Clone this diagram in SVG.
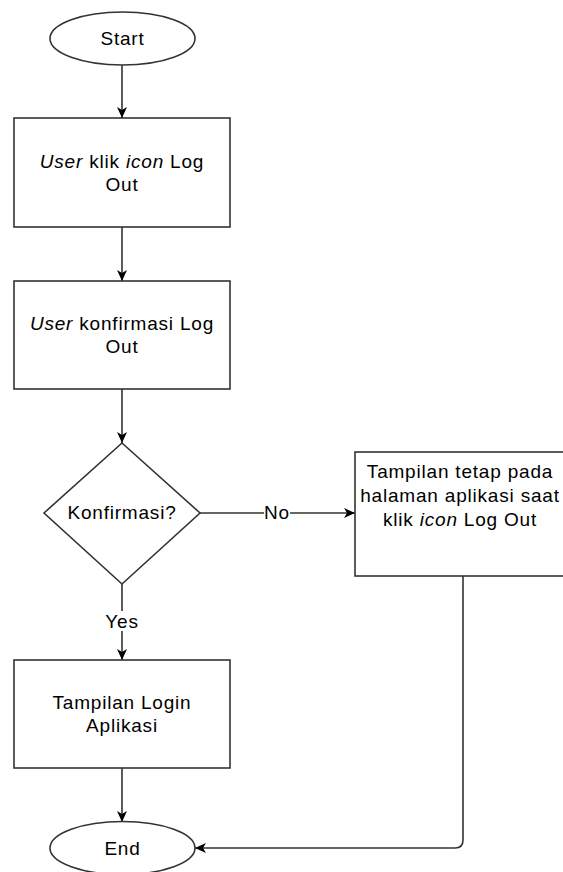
<svg xmlns="http://www.w3.org/2000/svg" width="563" height="872" viewBox="0 0 563 872">
<style>
.shape{fill:#fff;stroke:#333;stroke-width:1.6}
.edge{fill:none;stroke:#333;stroke-width:1.6}
text{font-family:"Liberation Sans",Arial,sans-serif;font-size:19px;fill:#000;text-anchor:middle;letter-spacing:0.8px}
.i{font-style:italic}
</style>
<defs>
<marker id="arr" markerWidth="12" markerHeight="10" refX="11" refY="5" orient="auto" markerUnits="userSpaceOnUse">
<path d="M0,0 L11,5 L0,10 L3,5 Z" fill="#000"/>
</marker>
</defs>
<rect width="563" height="872" fill="#fff"/>
<g id="connectors">
<line class="edge" x1="122" y1="65" x2="122" y2="118" marker-end="url(#arr)"/>
<line class="edge" x1="122" y1="227" x2="122" y2="281" marker-end="url(#arr)"/>
<line class="edge" x1="122" y1="389" x2="122" y2="443" marker-end="url(#arr)"/>
<line class="edge" x1="200" y1="513" x2="355" y2="513" marker-end="url(#arr)"/>
<line class="edge" x1="122" y1="584" x2="122" y2="660" marker-end="url(#arr)"/>
<line class="edge" x1="122" y1="768" x2="122" y2="822" marker-end="url(#arr)"/>
<path class="edge" d="M463,576 L463,840 Q463,848 455,848 L195,848" marker-end="url(#arr)"/>
<rect x="264" y="503" width="26" height="20" fill="#fff"/>
<text x="277" y="519">No</text>
<rect x="104" y="611" width="36" height="20" fill="#fff"/>
<text x="122" y="628">Yes</text>
</g>
<g id="start">
<ellipse class="shape" cx="122.5" cy="38.5" rx="72.5" ry="26.5"/>
<text x="122.5" y="45">Start</text>
</g>
<g id="user-klik">
<rect class="shape" x="14" y="118" width="216" height="109"/>
<text x="122" y="167.5"><tspan class="i">User</tspan> klik <tspan class="i">icon</tspan> Log</text>
<text x="122" y="190.5">Out</text>
</g>
<g id="user-konfirmasi">
<rect class="shape" x="14" y="281" width="216" height="108"/>
<text x="122" y="330"><tspan class="i">User</tspan> konfirmasi Log</text>
<text x="122" y="353">Out</text>
</g>
<g id="konfirmasi">
<polygon class="shape" points="122,443 200,513 122,584 44,513"/>
<text x="122" y="519">Konfirmasi?</text>
</g>
<g id="tampilan-tetap">
<rect class="shape" x="355" y="452" width="212" height="124"/>
<text x="460" y="478">Tampilan tetap pada</text>
<text x="460" y="502">halaman aplikasi saat</text>
<text x="460" y="526">klik <tspan class="i">icon</tspan> Log Out</text>
</g>
<g id="tampilan-login">
<rect class="shape" x="14" y="660" width="216" height="108"/>
<text x="122" y="709">Tampilan Login</text>
<text x="122" y="732">Aplikasi</text>
</g>
<g id="end">
<ellipse class="shape" cx="122.5" cy="848" rx="72.5" ry="26.5"/>
<text x="122.5" y="855">End</text>
</g>
</svg>
